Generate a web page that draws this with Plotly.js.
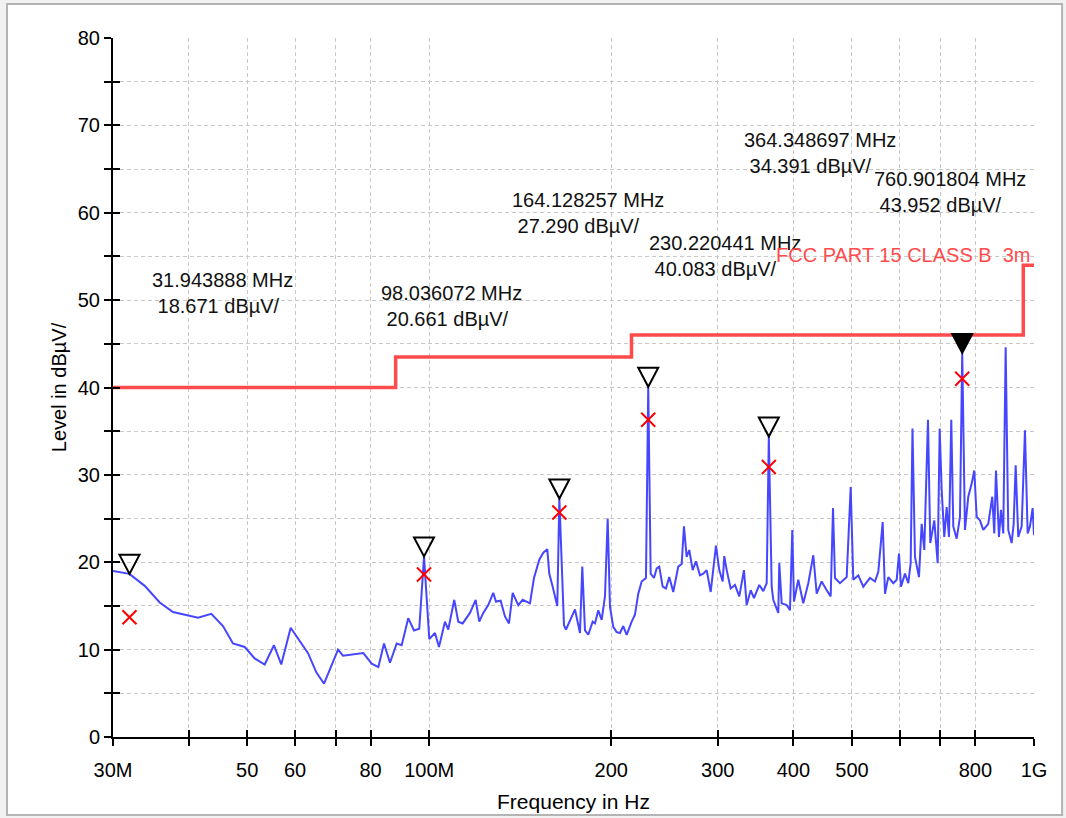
<!DOCTYPE html>
<html>
<head>
<meta charset="utf-8">
<script src="https://cdn.plot.ly/plotly-3.0.1.min.js"></script>
<style>html,body{margin:0;padding:0;background:#fff;}#chart{width:1066px;height:818px;}</style>
</head>
<body>
<div id="chart"></div>
<script>
// Measured spectrum (peak detector), frequency in MHz, level in dBµV/m
const freqMHz = [30.00,31.94,33.85,35.84,37.70,41.47,43.62,45.60,47.37,49.53,51.45,53.45,55.37,56.93,59.01,63.04,65.06,67.00,70.66,72.02,77.81,80.34,82.39,84.19,86.12,88.35,90.04,92.33,94.36,96.28,98.04,100.02,102.21,103.78,106.18,107.52,110.00,111.69,113.58,116.78,119.34,120.99,122.85,125.21,127.61,128.93,131.26,133.43,135.48,137.40,140.36,142.73,146.75,149.01,152.05,154.38,156.75,157.95,160.01,162.84,164.13,167.04,168.32,174.19,177.54,179.10,180.95,183.23,186.33,187.97,190.34,192.82,195.26,197.28,199.01,201.53,204.15,206.73,209.34,212.07,216.15,218.88,221.65,224.53,228.24,230.22,232.36,235.30,237.73,240.09,243.22,246.29,249.40,253.24,258.10,261.47,263.77,266.49,269.15,272.66,276.10,280.34,283.89,287.59,292.01,297.95,301.72,305.65,307.52,310.34,315.11,320.31,325.60,331.47,334.90,340.04,344.34,351.36,356.76,361.40,364.35,368.35,370.60,377.72,379.16,382.64,390.00,394.93,398.40,400.98,407.60,415.44,423.43,431.57,437.19,445.59,454.16,461.14,465.20,468.75,477.76,490.10,497.62,502.57,512.24,522.09,535.57,545.87,552.77,562.10,567.05,574.20,585.24,592.86,598.07,602.64,611.89,619.62,625.31,629.62,635.63,645.38,652.06,658.55,662.83,667.88,673.76,684.11,693.00,698.29,703.62,710.62,717.15,723.47,729.84,735.41,744.99,754.40,760.90,768.89,778.62,788.76,796.61,803.91,814.07,824.36,840.21,853.11,859.63,865.21,875.14,881.81,889.58,897.74,906.65,918.46,925.48,932.55,941.83,954.11,966.17,976.15,984.72,994.89,1000.00];
const levelDb = [19.0,18.67,17.3,15.4,14.3,13.65,14.1,12.7,10.7,10.3,9.0,8.3,10.5,8.3,12.5,9.6,7.4,6.1,10.0,9.3,9.6,8.4,8.0,10.7,8.5,10.7,10.5,13.6,12.2,12.4,20.66,11.2,11.9,10.3,13.2,12.3,15.7,13.2,13.0,14.2,15.7,13.2,14.2,15.1,16.5,15.5,15.6,13.8,13.0,16.5,15.1,15.7,15.3,18.2,20.3,21.1,21.5,18.7,17.2,15.0,27.29,12.8,12.3,14.6,11.9,19.5,12.2,11.7,13.2,13.0,14.5,13.4,16.1,25.0,14.9,12.6,12.0,11.9,12.7,11.7,13.2,14.0,16.4,17.8,18.2,40.08,18.7,18.2,19.3,19.5,17.2,17.0,18.3,16.6,19.5,19.8,24.1,20.6,21.4,19.1,20.1,18.5,18.7,19.1,16.6,21.9,19.1,17.8,20.7,19.1,17.0,17.4,16.1,19.1,15.1,16.8,15.9,17.4,16.7,17.6,34.39,17.2,15.7,14.2,19.9,15.3,15.1,14.5,23.7,15.5,18.0,15.3,17.6,20.8,16.4,17.8,16.8,16.1,26.2,18.2,17.6,18.3,28.6,18.0,18.5,17.2,18.2,17.8,18.9,24.6,16.4,18.3,17.6,18.0,21.0,17.2,18.7,17.6,19.9,35.3,20.6,18.3,24.4,21.4,28.3,36.3,22.2,24.8,19.9,35.3,28.3,22.9,26.3,22.9,36.3,24.1,22.7,25.2,43.95,23.7,27.5,29.0,30.5,25.2,24.8,23.7,24.4,27.5,23.3,30.5,22.9,26.0,23.3,44.6,23.7,22.2,24.4,31.1,22.9,24.1,35.1,23.3,24.1,26.2,23.1];

// FCC Part 15 Class B 3 m limit (step edges)
const limitFreqMHz = [30, 88, 216, 960, 1000];
const limitLevel = [40, 43.5, 46, 54, 54];
const limitName = 'FCC PART 15 CLASS B\u00a0\u00a03m';

// Peak markers (triangles) and quasi-peak results (crosses)
const peakFreqMHz = [31.943888, 98.036072, 164.128257, 230.220441, 364.348697, 760.901804];
const peakLevel = [18.671, 20.661, 27.290, 40.083, 34.391, 43.952];
const peakFilled = [false, false, false, false, false, true];
const qpLevel = [13.7, 18.6, 25.7, 36.3, 30.9, 41.0];

// Axis ticks
const xTickVals = [30,40,50,60,70,80,100,200,300,400,500,600,700,800,1000];
const xTickText = ['30M','','50','60','','80','100M','200','300','400','500','','','800','1G'];
const yTickVals = [0,5,10,15,20,25,30,35,40,45,50,55,60,65,70,75,80];
const yTickText = ['0','','10','','20','','30','','40','','50','','60','','70','','80'];

// Label placement (paper coords) for the peak readouts
const labelPos = [[0.040,0.635],[0.289,0.617],[0.431,0.750],[0.580,0.688],[0.683,0.835],[0.824,0.780]];

const FONT = 'Liberation Sans, Arial, sans-serif';
const xr = [Math.log10(30), Math.log10(1000)];

const traces = [
  {x: limitFreqMHz, y: limitLevel, mode: 'lines', line: {color: '#ff4b4b', width: 3.5, shape: 'hv'}, hoverinfo: 'skip'},
  {x: freqMHz, y: levelDb, mode: 'lines', line: {color: '#4646ff', width: 2}, hoverinfo: 'skip'},
  {x: peakFreqMHz, y: qpLevel, mode: 'markers', marker: {symbol: 'x-thin', size: 14, line: {color: '#ff0000', width: 2}, color: '#ff0000'}, hoverinfo: 'skip'},
  {x: [], y: [], xaxis: 'x2', yaxis: 'y2', mode: 'markers', hoverinfo: 'skip'}
];

const shapes = [
  {type: 'rect', xref: 'paper', yref: 'paper', x0: -0.1151, x1: 1.0305, y0: -0.1116, y1: 1.0486,
   line: {color: '#b4b4b4', width: 2}, fillcolor: '#ffffff', layer: 'below'}
];
peakFreqMHz.forEach((f, i) => {
  shapes.push({
    type: 'path', xref: 'x', yref: 'y', xsizemode: 'pixel', ysizemode: 'pixel',
    xanchor: f, yanchor: peakLevel[i],
    path: 'M -10 19 L 10 19 L 0 0 Z',
    line: {color: '#000', width: 2}, fillcolor: peakFilled[i] ? '#000' : 'rgba(0,0,0,0)', layer: 'above'
  });
});

const annotations = peakFreqMHz.map((f, i) => ({
  xref: 'paper', yref: 'paper', x: labelPos[i][0], y: labelPos[i][1],
  xanchor: 'left', yanchor: 'middle', align: 'left', showarrow: false,
  text: f.toFixed(6) + ' MHz<br>\u00a0' + peakLevel[i].toFixed(3) + ' dBµV/',
  font: {family: FONT, size: 20, color: '#111'}
}));
annotations.push({
  xref: 'paper', yref: 'paper', x: 0.999, y: 0.690, xanchor: 'right', yanchor: 'middle',
  showarrow: false, text: limitName, font: {family: FONT, size: 20, color: '#ff4b4b'}
});

const gridStyle = {showgrid: true, gridcolor: '#c8c8c8', gridwidth: 1, griddash: '4px,3px'};

const layout = {
  width: 1066, height: 818,
  margin: {l: 113, r: 32, t: 38, b: 81},
  paper_bgcolor: '#f2f2f2', plot_bgcolor: '#ffffff',
  showlegend: false,
  font: {family: FONT, color: '#000'},
  xaxis: Object.assign({
    type: 'log', range: xr, tickmode: 'array', tickvals: xTickVals, ticktext: xTickText,
    ticks: 'outside', ticklen: 7, tickwidth: 2, tickcolor: '#000',
    showline: true, linecolor: '#000', linewidth: 2, zeroline: false,
    tickfont: {size: 20, family: FONT}, ticklabelstandoff: 7,
    title: {text: 'Frequency in Hz', font: {size: 21, family: FONT}, standoff: 14}
  }, gridStyle),
  yaxis: Object.assign({
    range: [0, 80], tickmode: 'array', tickvals: yTickVals, ticktext: yTickText,
    ticks: 'outside', ticklen: 7, tickwidth: 2, tickcolor: '#000',
    showline: true, linecolor: '#000', linewidth: 2, zeroline: false,
    tickfont: {size: 20, family: FONT}, ticklabelstandoff: 0,
    title: {text: 'Level in dBµV/', font: {size: 20, family: FONT}, standoff: 6}
  }, gridStyle),
  xaxis2: {type: 'log', range: xr, overlaying: 'x', anchor: 'y2', side: 'bottom', tickmode: 'array', tickvals: xTickVals,
    ticks: 'inside', ticklen: 7, tickwidth: 2, tickcolor: '#000', showticklabels: false, showgrid: false, showline: false, zeroline: false},
  yaxis2: {range: [0, 80], overlaying: 'y', anchor: 'x2', side: 'left', tickmode: 'array', tickvals: yTickVals,
    ticks: 'inside', ticklen: 7, tickwidth: 2, tickcolor: '#000', showticklabels: false, showgrid: false, showline: false, zeroline: false},
  shapes: shapes,
  annotations: annotations
};

Plotly.newPlot('chart', traces, layout, {staticPlot: true, displayModeBar: false});
</script>
</body>
</html>
